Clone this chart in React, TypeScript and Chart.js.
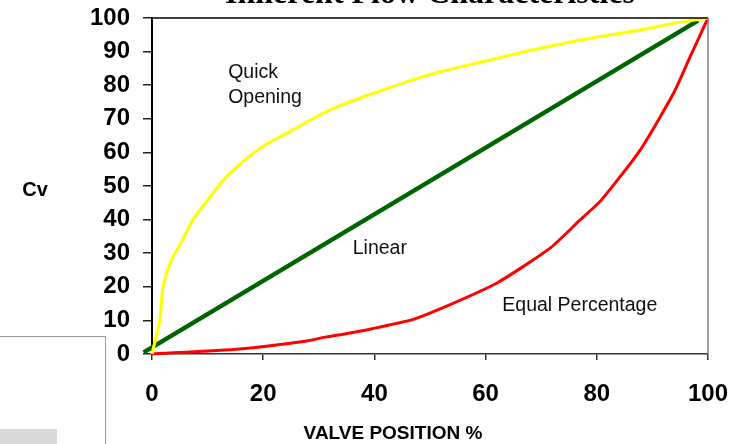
import React, { useEffect, useRef } from "react";
import { Chart, registerables } from "chart.js";

Chart.register(...registerables);

const TITLE = "Inherent Flow Characteristics";
const X_TITLE = "VALVE POSITION %";
const Y_TITLE = "Cv";

const quickX = [0, 1.4, 2, 3.5, 5, 7.4, 10, 13.4, 19.4, 24.8, 29, 32.6, 39.8, 45.8, 51.8, 60.8, 69.8, 78.8, 87.8, 93.8, 100];
const quickY = [0, 10, 20, 28, 32.4, 40, 45.8, 52.8, 61.2, 66.2, 70.1, 73.1, 77.6, 81, 84, 87.5, 91, 94, 96.4, 98.4, 100];

const linearX = [-1.5, 98.2];
const linearY = [0.5, 99.2];

const equalX = [0, 15.8, 27.2, 31.4, 34.4, 39.8, 47, 51.8, 61.9, 71.6, 77, 80.8, 87.8, 93.8, 96.8, 100];
const equalY = [0, 1.5, 3.7, 5.1, 5.9, 7.6, 10.3, 13.4, 21, 31.5, 39.9, 45.8, 60.7, 77.6, 88.5, 100];

const annotations = [
  { lines: ["Quick", "Opening"], x: 13.7, y: 83.6 },
  { lines: ["Linear"], x: 36.1, y: 31.4 },
  { lines: ["Equal Percentage"], x: 63.0, y: 14.4 },
];

const toPts = (xs: number[], ys: number[]) => xs.map((x, i) => ({ x, y: ys[i] }));

const decorPlugin = {
  id: "decor",
  beforeDraw(chart: any) {
    const ctx = chart.ctx;
    ctx.save();
    ctx.fillStyle = "#ffffff";
    ctx.fillRect(0, 0, chart.width, chart.height);
    ctx.strokeStyle = "#9a9a9a";
    ctx.lineWidth = 1;
    ctx.strokeRect(-2, 336.5, 107.5, 120);
    ctx.fillStyle = "#d9d9d9";
    ctx.fillRect(0, 429, 57, 15);
    ctx.restore();
  },
  afterDraw(chart: any) {
    const ctx = chart.ctx;
    const { left, right, top, bottom } = chart.chartArea;
    const xs = chart.scales.x;
    const ys = chart.scales.y;
    ctx.save();
    ctx.strokeStyle = "#000000";
    ctx.lineWidth = 1.5;
    ctx.beginPath();
    ctx.moveTo(left, top);
    ctx.lineTo(right, top);
    ctx.stroke();
    ctx.strokeStyle = "#808080";
    ctx.lineWidth = 1.5;
    ctx.beginPath();
    ctx.moveTo(right, top);
    ctx.lineTo(right, bottom);
    ctx.stroke();
    ctx.fillStyle = "#000000";
    ctx.font = "bold 32px 'Liberation Serif'";
    ctx.textAlign = "center";
    ctx.textBaseline = "alphabetic";
    ctx.fillText(TITLE, (left + right) / 2, 3);
    ctx.font = "bold 20px 'Liberation Sans'";
    ctx.textBaseline = "middle";
    ctx.fillText(Y_TITLE, 35, 190);
    ctx.font = "bold 19px 'Liberation Sans'";
    ctx.fillText(X_TITLE, 393, 434);
    ctx.font = "19.5px 'Liberation Sans'";
    ctx.textAlign = "left";
    ctx.fillStyle = "#111111";
    for (const a of annotations) {
      const px = xs.getPixelForValue(a.x);
      const py = ys.getPixelForValue(a.y);
      a.lines.forEach((t, i) => ctx.fillText(t, px, py + i * 25));
    }
    ctx.restore();
  },
};

export default function App() {
  const ref = useRef<HTMLCanvasElement | null>(null);
  useEffect(() => {
    if (!ref.current) return;
    const chart = new Chart(ref.current, {
      type: "line",
      data: {
        datasets: [
          {
            label: "Quick Opening",
            data: toPts(quickX, quickY),
            borderColor: "#ffff00",
            borderWidth: 3,
            pointRadius: 0,
            tension: 0.3,
            clip: false as any,
          },
          {
            label: "Equal Percentage",
            data: toPts(equalX, equalY),
            borderColor: "#ff0000",
            borderWidth: 3,
            pointRadius: 0,
            tension: 0.2,
            clip: false as any,
          },
          {
            label: "Linear",
            data: toPts(linearX, linearY),
            borderColor: "#006400",
            borderWidth: 4.5,
            pointRadius: 0,
            tension: 0,
            clip: false as any,
          },
        ],
      },
      options: {
        animation: false,
        responsive: false,
        events: [],
        layout: { padding: { left: 0, top: 18, right: 38, bottom: 0 } },
        plugins: { legend: { display: false }, tooltip: { enabled: false }, title: { display: false } },
        scales: {
          x: {
            type: "linear",
            min: 0,
            max: 100,
            ticks: {
              stepSize: 20,
              padding: 20,
              color: "#000000",
              font: { family: "'Liberation Sans'", size: 24, weight: "bold" },
            },
            grid: { drawOnChartArea: false, drawTicks: true, tickLength: 6, color: "#333333", lineWidth: 1.5 },
            border: { color: "#333333", width: 1.5 },
            afterFit: (s: any) => {
              s.height = 90;
              s.paddingLeft = 0;
              s.paddingRight = 0;
            },
          },
          y: {
            type: "linear",
            min: 0,
            max: 100,
            ticks: {
              stepSize: 10,
              padding: 13,
              color: "#000000",
              font: { family: "'Liberation Sans'", size: 24, weight: "bold" },
            },
            grid: { drawOnChartArea: false, drawTicks: true, tickLength: 9, color: "#222222", lineWidth: 1.5 },
            border: { color: "#000000", width: 2 },
            afterFit: (s: any) => {
              s.width = 152;
              s.paddingTop = 0;
              s.paddingBottom = 0;
            },
          },
        },
      },
      plugins: [decorPlugin],
    });
    return () => chart.destroy();
  }, []);
  return (
    <div style={{ position: "absolute", left: 0, top: 0, width: 746, height: 444 }}>
      <canvas ref={ref} width={746} height={444} style={{ width: 746, height: 444, display: "block" }} />
    </div>
  );
}
